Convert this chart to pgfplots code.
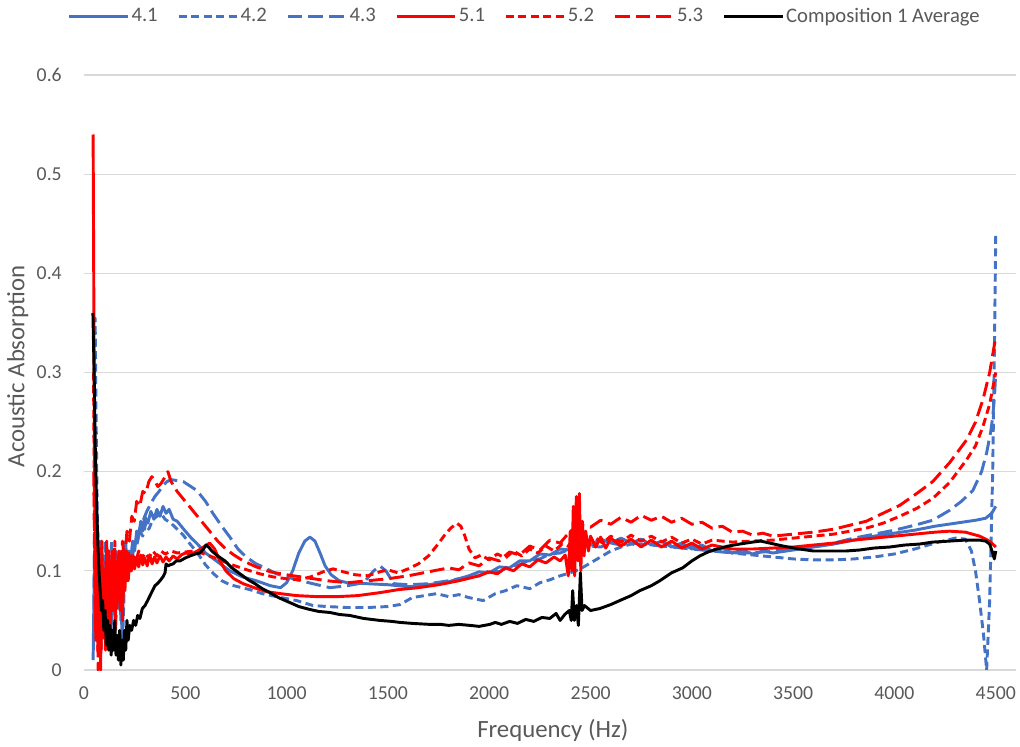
\documentclass[border=0pt]{standalone}
\usepackage{pgfplots}
\pgfplotsset{compat=1.18}
\usepackage{fontspec}
\setmainfont{Carlito}
\definecolor{sblue}{HTML}{4472C4}
\definecolor{sred}{HTML}{FF0000}
\definecolor{txtgray}{HTML}{595959}
\definecolor{gridgray}{HTML}{D9D9D9}

\begin{document}
\begin{tikzpicture}
\begin{axis}[
  name=ax,
  scale only axis,
  width=699pt, height=446.25pt,
  xmin=0, xmax=4600, ymin=0, ymax=0.6,
  xtick={0,500,1000,1500,2000,2500,3000,3500,4000,4500},
  xticklabels={0,500,1000,1500,2000,2500,3000,3500,4000,4500},
  ytick={0,0.1,0.2,0.3,0.4,0.5,0.6},
  yticklabels={0,0.1,0.2,0.3,0.4,0.5,0.6},
  axis line style={draw=none},
  major tick length=0pt,
  ymajorgrids,
  major grid style={draw=gridgray, line width=0.9pt},
  tick label style={font=\fontsize{14.8}{16}\selectfont, text=txtgray, inner sep=0pt},
  yticklabel style={anchor=east, xshift=-16.5pt},
  xticklabel style={anchor=north, yshift=-12pt},
  xlabel={Frequency (Hz)},
  ylabel={Acoustic Absorption},
  label style={font=\fontsize{18.6}{22}\selectfont, text=txtgray},
  xlabel style={at={(axis description cs:0.503,-0.101)}, anchor=center},
  ylabel style={at={(axis description cs:-0.071,0.51)}, anchor=center},
  legend columns=7,
  legend style={at={(axis description cs:0.473,1.099)}, anchor=center, draw=none,
    font=\fontsize{15.5}{17}\selectfont, text=txtgray,
    nodes={inner sep=1.5pt},
    /tikz/every odd column/.append style={column sep=0pt},
    /tikz/every even column/.append style={column sep=13pt}},
  legend image code/.code={\draw[#1] (0pt,0pt) -- (44pt,0pt);},
  every axis plot/.append style={line width=2.2pt, line join=round, mark=none},
]
% 4.1
\addplot[sblue] coordinates {
(45,0.01)(52,0.12)(58,0.05)(64,0.15)(70,0.08)(78,0.13)(86,0.04)(94,0.11)(102,0.06)(110,0.12)
(118,0.05)(126,0.10)(134,0.04)(142,0.11)(150,0.06)(158,0.12)(166,0.07)(174,0.11)(182,0.05)(190,0.12)
(198,0.08)(206,0.13)(214,0.09)(222,0.12)(230,0.11)(240,0.13)(250,0.12)(260,0.14)(270,0.135)(280,0.15)
(290,0.14)(300,0.155)(315,0.148)(330,0.16)(345,0.152)(360,0.162)(375,0.155)(390,0.165)(405,0.158)(420,0.162)
(440,0.152)(460,0.15)(480,0.145)(500,0.14)(530,0.133)(560,0.127)(600,0.118)(640,0.112)(680,0.106)(720,0.100)
(780,0.094)(850,0.090)(920,0.085)(970,0.083)(1000,0.088)(1030,0.100)(1060,0.118)(1090,0.130)(1115,0.134)(1140,0.130)
(1165,0.118)(1190,0.105)(1220,0.096)(1260,0.090)(1300,0.088)(1400,0.087)(1500,0.086)(1600,0.084)(1700,0.086)(1800,0.089)
(1900,0.095)(1950,0.099)(2000,0.098)(2050,0.104)(2100,0.103)(2150,0.110)(2200,0.110)(2250,0.117)(2300,0.116)(2350,0.122)
(2400,0.121)(2450,0.127)(2500,0.126)(2550,0.132)(2600,0.128)(2650,0.133)(2700,0.128)(2750,0.132)(2800,0.126)(2850,0.130)
(2900,0.124)(2950,0.128)(3000,0.122)(3050,0.126)(3100,0.120)(3150,0.123)(3200,0.118)(3250,0.121)(3300,0.117)(3350,0.120)
(3400,0.118)(3500,0.121)(3600,0.124)(3700,0.127)(3800,0.131)(3900,0.135)(4000,0.138)(4100,0.141)(4200,0.145)(4300,0.148)
(4400,0.151)(4450,0.153)(4480,0.158)(4500,0.165)
};
\addlegendentry{4.1}
% 4.2
\addplot[sblue, dash pattern=on 6pt off 3.4pt] coordinates {
(50,0.30)(55,0.355)(60,0.25)(66,0.15)(72,0.03)(78,0.12)(84,0.02)(90,0.10)(96,0.05)(104,0.13)
(112,0.06)(120,0.12)(128,0.07)(136,0.13)(144,0.08)(152,0.12)(160,0.07)(168,0.11)(176,0.06)(184,0.10)
(192,0.04)(200,0.09)(210,0.11)(220,0.10)(230,0.12)(240,0.115)(250,0.13)(260,0.125)(275,0.14)(290,0.135)
(305,0.148)(320,0.142)(340,0.152)(360,0.155)(380,0.158)(400,0.152)(430,0.148)(460,0.142)(490,0.136)(520,0.128)
(560,0.118)(600,0.106)(640,0.097)(680,0.090)(720,0.086)(760,0.084)(820,0.081)(880,0.077)(950,0.074)(1050,0.070)
(1130,0.065)(1200,0.064)(1300,0.063)(1400,0.063)(1500,0.064)(1560,0.066)(1620,0.073)(1680,0.075)(1740,0.077)(1800,0.074)
(1850,0.076)(1900,0.073)(1970,0.070)(2030,0.077)(2080,0.080)(2136,0.085)(2200,0.082)(2250,0.088)(2300,0.091)(2350,0.095)
(2400,0.098)(2450,0.102)(2500,0.108)(2550,0.114)(2600,0.120)(2650,0.124)(2700,0.127)(2750,0.126)(2800,0.128)(2900,0.127)
(3000,0.125)(3100,0.122)(3200,0.118)(3300,0.116)(3400,0.114)(3500,0.112)(3600,0.111)(3700,0.111)(3800,0.112)(3900,0.114)
(4000,0.117)(4100,0.122)(4200,0.128)(4300,0.133)(4350,0.132)(4380,0.120)(4400,0.100)(4420,0.070)(4440,0.035)(4455,0.0)
(4470,0.07)(4485,0.20)(4495,0.35)(4500,0.44)
};
\addlegendentry{4.2}
% 4.3
\addplot[sblue, dash pattern=on 11pt off 4.5pt] coordinates {
(48,0.02)(54,0.20)(60,0.10)(68,0.14)(76,0.03)(84,0.12)(92,0.05)(100,0.10)(108,0.03)(116,0.09)
(124,0.05)(132,0.11)(140,0.06)(148,0.10)(156,0.04)(164,0.09)(172,0.06)(180,0.10)(188,0.03)(196,0.08)
(205,0.10)(215,0.09)(225,0.11)(240,0.12)(255,0.13)(270,0.14)(290,0.15)(310,0.16)(330,0.168)(350,0.175)
(370,0.18)(390,0.186)(410,0.19)(430,0.192)(460,0.191)(490,0.19)(520,0.186)(557,0.181)(600,0.17)(636,0.158)
(680,0.145)(720,0.134)(760,0.122)(800,0.114)(850,0.107)(883,0.104)(950,0.097)(1050,0.091)(1130,0.087)(1214,0.083)
(1300,0.085)(1380,0.088)(1430,0.100)(1460,0.105)(1490,0.100)(1530,0.087)(1600,0.086)(1700,0.087)(1800,0.090)(1900,0.094)
(1950,0.095)(2000,0.100)(2050,0.099)(2100,0.105)(2150,0.106)(2200,0.111)(2250,0.112)(2300,0.117)(2350,0.118)(2400,0.122)
(2450,0.121)(2500,0.125)(2550,0.124)(2600,0.128)(2650,0.126)(2700,0.128)(2800,0.126)(2900,0.124)(3000,0.122)(3100,0.120)
(3200,0.118)(3300,0.118)(3400,0.120)(3500,0.122)(3600,0.124)(3700,0.128)(3800,0.133)(3900,0.137)(4000,0.141)(4100,0.146)
(4189,0.151)(4272,0.161)(4330,0.170)(4387,0.181)(4430,0.200)(4455,0.219)(4475,0.240)(4485,0.255)(4495,0.280)(4500,0.300)
};
\addlegendentry{4.3}
% 5.1
\addplot[sred] coordinates {
(45,0.54)(48,0.40)(52,0.20)(56,0.12)(60,0.05)(64,0.13)(70,0.03)(76,0.10)(82,0.00)(88,0.12)
(94,0.04)(100,0.10)(106,0.02)(112,0.13)(118,0.05)(124,0.12)(130,0.03)(136,0.11)(142,0.06)(148,0.12)
(154,0.04)(160,0.10)(166,0.07)(172,0.12)(178,0.06)(184,0.10)(190,0.05)(196,0.11)(202,0.08)(210,0.12)
(218,0.09)(226,0.11)(234,0.10)(242,0.115)(250,0.102)(260,0.114)(270,0.104)(280,0.116)(290,0.106)(300,0.113)
(312,0.105)(324,0.116)(336,0.107)(348,0.114)(360,0.108)(375,0.115)(390,0.109)(405,0.114)(420,0.110)(440,0.115)
(460,0.112)(480,0.116)(500,0.118)(530,0.117)(560,0.120)(590,0.124)(620,0.128)(645,0.122)(670,0.110)(700,0.100)
(740,0.092)(786,0.087)(840,0.083)(900,0.079)(970,0.077)(1050,0.075)(1150,0.074)(1250,0.074)(1350,0.075)(1460,0.078)
(1550,0.081)(1650,0.083)(1750,0.086)(1850,0.090)(1950,0.095)(2000,0.099)(2040,0.097)(2080,0.103)(2120,0.100)(2160,0.107)
(2200,0.104)(2240,0.111)(2280,0.108)(2320,0.114)(2350,0.110)(2375,0.116)(2390,0.095)(2400,0.140)(2408,0.100)(2415,0.165)
(2422,0.095)(2430,0.175)(2438,0.110)(2445,0.178)(2452,0.100)(2460,0.150)(2468,0.115)(2476,0.140)(2490,0.120)(2500,0.135)
(2525,0.124)(2550,0.134)(2575,0.123)(2600,0.133)(2650,0.125)(2700,0.132)(2750,0.124)(2800,0.131)(2850,0.124)(2900,0.130)
(2950,0.123)(3000,0.128)(3050,0.122)(3100,0.126)(3200,0.122)(3300,0.122)(3400,0.123)(3500,0.124)(3600,0.126)(3700,0.128)
(3800,0.131)(3900,0.133)(4000,0.135)(4100,0.137)(4200,0.139)(4272,0.140)(4350,0.139)(4420,0.135)(4460,0.131)(4485,0.127)
(4500,0.124)
};
\addlegendentry{5.1}
% 5.2
\addplot[sred, dash pattern=on 6pt off 3.4pt] coordinates {
(47,0.30)(52,0.15)(57,0.05)(62,0.12)(68,0.02)(74,0.11)(80,0.04)(88,0.13)(96,0.03)(104,0.10)
(112,0.06)(120,0.12)(128,0.04)(136,0.11)(144,0.07)(152,0.13)(160,0.06)(168,0.10)(176,0.08)(184,0.12)
(192,0.07)(200,0.11)(210,0.09)(220,0.12)(230,0.10)(240,0.118)(255,0.108)(270,0.120)(285,0.112)(300,0.118)
(320,0.113)(340,0.120)(360,0.115)(380,0.120)(400,0.117)(430,0.120)(460,0.118)(500,0.119)(540,0.120)(580,0.118)
(620,0.115)(660,0.112)(705,0.108)(760,0.104)(820,0.100)(868,0.097)(930,0.094)(1000,0.092)(1060,0.091)(1120,0.094)
(1180,0.099)(1230,0.102)(1280,0.099)(1340,0.096)(1400,0.095)(1460,0.099)(1500,0.101)(1550,0.098)(1600,0.102)(1650,0.107)
(1700,0.115)(1740,0.125)(1780,0.136)(1810,0.143)(1840,0.148)(1860,0.145)(1880,0.135)(1900,0.122)(1930,0.113)(1960,0.116)
(2000,0.111)(2040,0.117)(2080,0.113)(2120,0.120)(2160,0.115)(2200,0.122)(2240,0.118)(2280,0.125)(2320,0.120)(2360,0.127)
(2400,0.124)(2440,0.131)(2480,0.126)(2520,0.134)(2560,0.128)(2600,0.135)(2650,0.129)(2700,0.136)(2750,0.130)(2800,0.135)
(2850,0.129)(2900,0.134)(2950,0.128)(3000,0.132)(3050,0.127)(3100,0.131)(3200,0.129)(3300,0.130)(3400,0.131)(3500,0.133)
(3600,0.135)(3700,0.137)(3780,0.140)(3860,0.143)(3943,0.148)(4026,0.155)(4110,0.163)(4189,0.173)(4272,0.189)(4356,0.212)
(4400,0.226)(4436,0.245)(4470,0.268)(4500,0.300)
};
\addlegendentry{5.2}
% 5.3
\addplot[sred, dash pattern=on 11pt off 4.5pt] coordinates {
(48,0.20)(53,0.10)(58,0.03)(64,0.10)(70,0.00)(76,0.09)(84,0.02)(92,0.10)(100,0.04)(108,0.11)
(116,0.05)(124,0.10)(132,0.06)(140,0.12)(148,0.07)(156,0.11)(164,0.08)(172,0.12)(180,0.09)(190,0.13)
(200,0.11)(212,0.14)(224,0.13)(236,0.155)(248,0.150)(260,0.170)(275,0.165)(290,0.180)(305,0.178)(320,0.190)
(335,0.195)(350,0.190)(365,0.185)(380,0.188)(395,0.193)(414,0.200)(430,0.190)(460,0.180)(500,0.170)(540,0.160)
(580,0.150)(620,0.140)(660,0.130)(700,0.122)(740,0.116)(786,0.110)(850,0.104)(920,0.099)(1000,0.096)(1100,0.093)
(1200,0.090)(1300,0.088)(1400,0.090)(1500,0.092)(1600,0.095)(1700,0.099)(1800,0.103)(1850,0.101)(1900,0.108)(1950,0.105)
(2000,0.113)(2050,0.110)(2100,0.119)(2150,0.116)(2200,0.125)(2250,0.121)(2300,0.131)(2350,0.128)(2400,0.140)(2450,0.146)
(2500,0.144)(2550,0.151)(2600,0.147)(2650,0.154)(2700,0.149)(2750,0.156)(2800,0.151)(2850,0.155)(2900,0.149)(2950,0.153)
(3000,0.147)(3050,0.149)(3100,0.143)(3150,0.145)(3200,0.139)(3250,0.140)(3300,0.136)(3350,0.138)(3400,0.135)(3500,0.137)
(3600,0.139)(3700,0.142)(3780,0.146)(3861,0.150)(3943,0.158)(4026,0.166)(4110,0.178)(4189,0.190)(4272,0.209)(4356,0.232)
(4400,0.250)(4436,0.272)(4470,0.300)(4500,0.336)
};
\addlegendentry{5.3}
% Composition 1 Average
\addplot[black] coordinates {
(44,0.36)(50,0.30)(56,0.22)(62,0.17)(68,0.13)(74,0.10)(80,0.08)(86,0.06)(92,0.07)(98,0.04)
(104,0.06)(110,0.025)(116,0.05)(122,0.02)(128,0.045)(134,0.015)(140,0.04)(146,0.02)(152,0.05)(158,0.015)
(164,0.035)(170,0.01)(176,0.04)(182,0.005)(188,0.03)(194,0.01)(200,0.04)(206,0.02)(212,0.05)(218,0.03)
(226,0.045)(235,0.04)(245,0.05)(255,0.045)(265,0.055)(276,0.052)(288,0.062)(301,0.065)(314,0.07)(326,0.075)
(338,0.08)(350,0.085)(362,0.087)(375,0.09)(390,0.094)(400,0.098)(405,0.107)(415,0.105)(424,0.106)(440,0.107)
(455,0.11)(474,0.11)(500,0.113)(523,0.115)(550,0.117)(572,0.118)(590,0.122)(602,0.126)(615,0.124)(631,0.12)
(660,0.115)(696,0.11)(730,0.103)(770,0.097)(810,0.091)(844,0.087)(880,0.082)(918,0.078)(960,0.073)(1016,0.068)
(1060,0.064)(1115,0.061)(1160,0.059)(1214,0.058)(1260,0.056)(1312,0.055)(1380,0.052)(1460,0.05)(1520,0.049)(1559,0.048)
(1620,0.047)(1707,0.046)(1760,0.046)(1800,0.045)(1850,0.046)(1904,0.045)(1950,0.044)(2003,0.046)(2030,0.048)(2060,0.046)
(2101,0.049)(2140,0.047)(2180,0.051)(2220,0.049)(2260,0.053)(2299,0.052)(2330,0.057)(2350,0.050)(2373,0.056)(2395,0.060)
(2405,0.050)(2412,0.080)(2420,0.050)(2430,0.065)(2440,0.045)(2450,0.098)(2458,0.060)(2470,0.065)(2500,0.060)(2546,0.062)
(2600,0.066)(2644,0.07)(2700,0.075)(2743,0.08)(2800,0.085)(2842,0.09)(2900,0.098)(2955,0.103)(3000,0.11)(3039,0.115)
(3080,0.119)(3123,0.122)(3180,0.125)(3236,0.127)(3300,0.129)(3340,0.13)(3384,0.128)(3450,0.125)(3532,0.122)(3600,0.12)
(3680,0.12)(3760,0.12)(3828,0.121)(3900,0.123)(3976,0.124)(4050,0.126)(4124,0.127)(4189,0.129)(4272,0.13)(4350,0.131)
(4420,0.131)(4450,0.13)(4470,0.127)(4485,0.118)(4493,0.112)(4500,0.12)
};
\addlegendentry{Composition 1 Average}
\end{axis}
\pgfresetboundingbox
\path[use as bounding box] ([xshift=-63pt,yshift=-57pt]ax.south west) rectangle ([xshift=3pt,yshift=56.25pt]ax.north east);
\end{tikzpicture}
\end{document}
